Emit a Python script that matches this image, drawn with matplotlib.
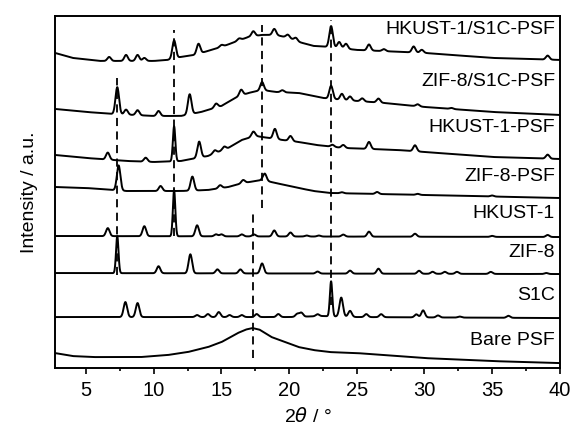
import numpy as np
import matplotlib
matplotlib.use('Agg')
import matplotlib.pyplot as plt

plt.rcParams['font.family'] = ['Liberation Sans', 'DejaVu Sans']

#Sample names, bottom to top
samples = ['Bare PSF', 'S1C', 'ZIF-8', 'HKUST-1', 'ZIF-8-PSF', 'HKUST-1-PSF',
           'ZIF-8/S1C-PSF', 'HKUST-1/S1C-PSF']
label_y = [28, 73, 116, 155, 191, 240, 286, 338]

#Baseline knots (2theta, stacked intensity) and peaks (2theta, height)
psf_bx = [2.7, 4, 5.5, 9, 11, 12.5, 14, 15, 16.2, 16.8, 17.3, 17.8, 18.7, 19.9, 20.7, 21.8, 23, 25, 30, 35, 40]
psf_by = [15, 12, 11, 11, 13, 16, 21, 26, 35, 38.5, 40, 38.5, 31, 25, 21, 18, 16, 15, 10, 7, 5]
psf_px = []
psf_ph = []

s1c_bx = [2.7, 10, 20, 22.5, 25, 40]
s1c_by = [51, 51, 51, 52, 51, 50]
s1c_px = [7.9, 8.8, 13.2, 14.0, 14.8, 15.6, 16.5, 17.6, 19.2, 20.6, 20.9, 22.1, 23.1, 23.85, 24.5, 25.7, 26.8, 29.4, 29.9, 31.0, 32.6, 36.2]
s1c_ph = [15, 14, 2, 3, 5, 2, 2, 3, 3, 3, 4, 2, 35, 19, 6, 3, 3, 3, 7, 2, 1, 2]

zif_bx = [2.7, 40]
zif_by = [95, 94]
zif_px = [7.3, 10.35, 12.7, 14.7, 16.4, 18.0, 22.1, 24.5, 26.6, 29.6, 30.6, 31.5, 32.4, 34.9, 39.0]
zif_ph = [37, 7, 19, 4, 4, 10, 2, 3, 5, 3, 2, 2, 2, 2, 1]

hk_bx = [2.7, 40]
hk_by = [132, 131]
hk_px = [6.6, 9.3, 11.5, 13.2, 14.6, 15.0, 16.5, 17.4, 18.9, 20.1, 21.3, 22.2, 24.0, 25.9, 29.3, 35.0, 39.1]
hk_ph = [8, 10, 46, 11, 2, 2, 2, 2, 6, 4, 1, 1, 2, 5, 3, 1, 2]

zpsf_bx = [2.7, 5, 8, 10, 12, 14, 15.5, 16.6, 18, 19, 20.7, 21.8, 23, 30, 40]
zpsf_by = [181, 180, 177, 177, 177, 178, 181, 185, 188, 185, 180, 177, 175, 173, 170]
zpsf_px = [7.4, 10.5, 12.85, 14.9, 16.6, 18.2, 23.9, 26.5, 29.5, 35.0]
zpsf_ph = [25, 5, 14, 3, 3, 7, 1, 2, 1, 1]

hpsf_bx = [2.7, 5, 8, 10, 12, 14, 15.5, 16.5, 17.5, 18.5, 19.5, 20.7, 22, 24, 28, 35, 40]
hpsf_by = [213, 210, 207, 206, 207, 212, 220, 228, 232, 230, 228, 226, 223, 220, 218, 211, 209]
hpsf_px = [6.6, 9.4, 11.5, 13.35, 14.5, 15.2, 17.35, 18.95, 20.1, 23.2, 24.0, 25.9, 29.3, 39.1]
hpsf_ph = [7, 4, 35, 16, 3, 3, 5, 10, 5, 2, 3, 7, 6, 4]

zs_bx = [2.7, 5, 7, 10, 12, 13.5, 15, 16, 17, 18, 19, 20.7, 22.5, 24, 27, 30, 35, 40]
zs_by = [259, 256, 254, 252, 252, 256, 262, 270, 275, 278, 276, 275, 270, 268, 265, 261, 256, 253]
zs_px = [7.3, 7.95, 8.8, 10.35, 12.65, 14.6, 16.45, 18.0, 19.5, 23.1, 23.9, 24.5, 25.4, 26.6, 29.5, 32.0]
zs_ph = [27, 5, 5, 5, 20, 4, 6, 8, 2, 13, 6, 4, 3, 4, 2, 1]

hs_bx = [2.7, 4, 6, 10, 11, 12, 13, 14, 15, 16, 17, 18, 19, 20, 20.7, 21.8, 23, 25, 30, 35, 40]
hs_by = [315, 310, 307, 307, 308, 311, 313, 317, 321, 326, 331, 333, 333, 330, 326, 322, 321, 318, 315, 310, 308]
hs_px = [6.7, 7.95, 8.8, 9.3, 11.5, 13.3, 15.0, 16.3, 17.35, 18.9, 19.9, 20.5, 23.1, 23.7, 24.2, 25.9, 27.0, 29.2, 29.8, 39.1]
hs_ph = [4, 6, 6, 3, 18, 10, 2, 2, 5, 6, 3, 3, 21, 6, 5, 6, 2, 6, 3, 4]

traces = [(psf_bx, psf_by, psf_px, psf_ph),
          (s1c_bx, s1c_by, s1c_px, s1c_ph),
          (zif_bx, zif_by, zif_px, zif_ph),
          (hk_bx, hk_by, hk_px, hk_ph),
          (zpsf_bx, zpsf_by, zpsf_px, zpsf_ph),
          (hpsf_bx, hpsf_by, hpsf_px, hpsf_ph),
          (zs_bx, zs_by, zs_px, zs_ph),
          (hs_bx, hs_by, hs_px, hs_ph)]

#Reference lines: (2theta, bottom, top)
ref_x = [7.3, 11.5, 17.3, 18.0, 23.1]
ref_lo = [93, 132, 10, 160, 63]
ref_hi = [290, 338, 158, 343, 348]

two_theta = np.arange(2.7, 40.001, 0.02)

fig = plt.figure(figsize=(5.73, 4.30), dpi=100)
ax = fig.add_axes([0.096, 0.144, 0.881, 0.819])

for bx, by, px, ph in traces:
	y = np.interp(two_theta, bx, by)
	for pos, h in zip(px, ph):
		w = 0.09 if h > 30 else 0.13
		y = y + h * np.exp(-0.5 * ((two_theta - pos) / w) ** 2)
	ax.plot(two_theta, y, color='black', lw=1.4)

ax.vlines(ref_x, ref_lo, ref_hi, colors='black', linestyles=(0, (4.5, 3)), lw=1.3)

for name, ly in zip(samples, label_y):
	ax.text(39.65, ly, name, ha='right', va='center', fontsize=14)

ax.set_xlim(2.7, 40)
ax.set_ylim(0, 352)
ax.set_xticks([5, 10, 15, 20, 25, 30, 35, 40])
ax.set_xticks(np.arange(7.5, 40, 5), minor=True)
ax.set_yticks([])
ax.tick_params(axis='x', direction='out', length=4, width=1.2, labelsize=14.5, pad=5)
ax.tick_params(axis='x', which='minor', direction='out', length=2.5, width=1.2)
for sp in ax.spines.values():
	sp.set_linewidth(1.4)
ax.set_xlabel(r'2$\theta$ / °', fontsize=14, labelpad=5)
ax.set_ylabel('Intensity / a.u.', fontsize=14, labelpad=12)

plt.savefig('out.png', dpi=100)
plt.close()
